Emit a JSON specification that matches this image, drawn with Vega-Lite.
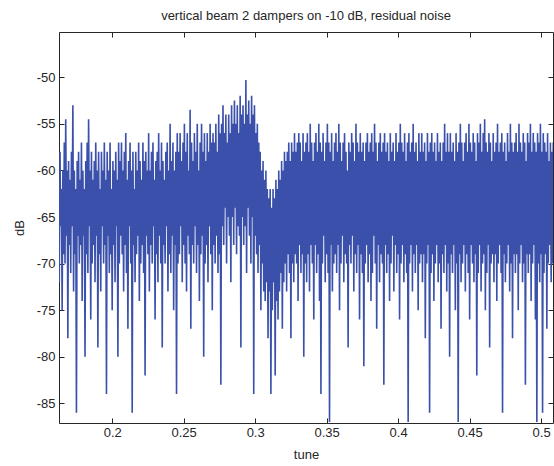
{
"$schema": "https://vega.github.io/schema/vega-lite/v6.json",
"width": 494,
"height": 391,
"autosize": {"type": "none"},
"padding": {"left": 59, "top": 32, "right": 1, "bottom": 43},
"background": "white",
"title": {"text": "vertical beam 2 dampers on -10 dB, residual noise", "font": "Liberation Sans", "fontSize": 13, "fontWeight": "normal", "color": "#262626", "offset": 9, "anchor": "middle"},
"data": {"values": [
{"x":0.1615,"y":-59},{"x":0.162,"y":-68},{"x":0.1625,"y":-61},{"x":0.163,"y":-72},{"x":0.1635,"y":-58},{"x":0.164,"y":-66},{"x":0.1645,"y":-62},{"x":0.165,"y":-75},{"x":0.1655,"y":-60},{"x":0.166,"y":-69},
{"x":0.1665,"y":-57},{"x":0.167,"y":-70},{"x":0.1675,"y":-54.5},{"x":0.168,"y":-67},{"x":0.1685,"y":-60},{"x":0.169,"y":-78},{"x":0.1695,"y":-59},{"x":0.17,"y":-68},{"x":0.1705,"y":-61},{"x":0.171,"y":-71},
{"x":0.1715,"y":-58},{"x":0.172,"y":-66},{"x":0.1725,"y":-53},{"x":0.173,"y":-73},{"x":0.1735,"y":-60},{"x":0.174,"y":-69},{"x":0.1745,"y":-62},{"x":0.175,"y":-86},{"x":0.1755,"y":-59},{"x":0.176,"y":-67},
{"x":0.1765,"y":-58},{"x":0.177,"y":-70},{"x":0.1775,"y":-61},{"x":0.178,"y":-68},{"x":0.1785,"y":-57},{"x":0.179,"y":-74},{"x":0.1795,"y":-60},{"x":0.18,"y":-67},{"x":0.1805,"y":-62},{"x":0.181,"y":-80},
{"x":0.1815,"y":-59},{"x":0.182,"y":-69},{"x":0.1825,"y":-57},{"x":0.183,"y":-71},{"x":0.1835,"y":-54.5},{"x":0.184,"y":-66},{"x":0.1845,"y":-60},{"x":0.185,"y":-76},{"x":0.1855,"y":-58},{"x":0.186,"y":-70},
{"x":0.1865,"y":-61},{"x":0.187,"y":-68},{"x":0.1875,"y":-59},{"x":0.188,"y":-72},{"x":0.1885,"y":-57},{"x":0.189,"y":-67},{"x":0.1895,"y":-60},{"x":0.19,"y":-79},{"x":0.1905,"y":-58},{"x":0.191,"y":-69},
{"x":0.1915,"y":-62},{"x":0.192,"y":-73},{"x":0.1925,"y":-58},{"x":0.193,"y":-66},{"x":0.1935,"y":-60},{"x":0.194,"y":-70},{"x":0.1945,"y":-57},{"x":0.195,"y":-68},{"x":0.1955,"y":-61},{"x":0.196,"y":-84},
{"x":0.1965,"y":-58},{"x":0.197,"y":-67},{"x":0.1975,"y":-60},{"x":0.198,"y":-71},{"x":0.1985,"y":-57},{"x":0.199,"y":-69},{"x":0.1995,"y":-62},{"x":0.2,"y":-75},{"x":0.2005,"y":-59},{"x":0.201,"y":-68},
{"x":0.2015,"y":-60},{"x":0.202,"y":-72},{"x":0.2025,"y":-58},{"x":0.203,"y":-66},{"x":0.2035,"y":-61},{"x":0.204,"y":-80},{"x":0.2045,"y":-57},{"x":0.205,"y":-70},{"x":0.2055,"y":-59},{"x":0.206,"y":-67},
{"x":0.2065,"y":-57},{"x":0.207,"y":-69},{"x":0.2075,"y":-60},{"x":0.208,"y":-73},{"x":0.2085,"y":-58},{"x":0.209,"y":-68},{"x":0.2095,"y":-56},{"x":0.21,"y":-71},{"x":0.2105,"y":-61},{"x":0.211,"y":-77},
{"x":0.2115,"y":-59},{"x":0.212,"y":-66},{"x":0.2125,"y":-57},{"x":0.213,"y":-70},{"x":0.2135,"y":-60},{"x":0.214,"y":-86},{"x":0.2145,"y":-58},{"x":0.215,"y":-68},{"x":0.2155,"y":-62},{"x":0.216,"y":-72},
{"x":0.2165,"y":-58},{"x":0.217,"y":-69},{"x":0.2175,"y":-60},{"x":0.218,"y":-67},{"x":0.2185,"y":-57},{"x":0.219,"y":-74},{"x":0.2195,"y":-59},{"x":0.22,"y":-70},{"x":0.2205,"y":-61},{"x":0.221,"y":-68},
{"x":0.2215,"y":-57},{"x":0.222,"y":-71},{"x":0.2225,"y":-59},{"x":0.223,"y":-82},{"x":0.2235,"y":-58},{"x":0.224,"y":-67},{"x":0.2245,"y":-60},{"x":0.225,"y":-69},{"x":0.2255,"y":-56},{"x":0.226,"y":-73},
{"x":0.2265,"y":-60},{"x":0.227,"y":-68},{"x":0.2275,"y":-58},{"x":0.228,"y":-70},{"x":0.2285,"y":-57},{"x":0.229,"y":-66},{"x":0.2295,"y":-61},{"x":0.23,"y":-76},{"x":0.2305,"y":-59},{"x":0.231,"y":-69},
{"x":0.2315,"y":-58},{"x":0.232,"y":-72},{"x":0.2325,"y":-56},{"x":0.233,"y":-67},{"x":0.2335,"y":-60},{"x":0.234,"y":-70},{"x":0.2345,"y":-57},{"x":0.235,"y":-79},{"x":0.2355,"y":-59},{"x":0.236,"y":-68},
{"x":0.2365,"y":-61},{"x":0.237,"y":-70},{"x":0.2375,"y":-58},{"x":0.238,"y":-66},{"x":0.2385,"y":-57},{"x":0.239,"y":-73},{"x":0.2395,"y":-60},{"x":0.24,"y":-69},{"x":0.2405,"y":-55},{"x":0.241,"y":-71},
{"x":0.2415,"y":-59},{"x":0.242,"y":-67},{"x":0.2425,"y":-57},{"x":0.243,"y":-75},{"x":0.2435,"y":-60},{"x":0.244,"y":-68},{"x":0.2445,"y":-58},{"x":0.245,"y":-84},{"x":0.2455,"y":-56},{"x":0.246,"y":-70},
{"x":0.2465,"y":-58},{"x":0.247,"y":-69},{"x":0.2475,"y":-56},{"x":0.248,"y":-66},{"x":0.2485,"y":-59},{"x":0.249,"y":-72},{"x":0.2495,"y":-57},{"x":0.25,"y":-68},{"x":0.2505,"y":-55},{"x":0.251,"y":-70},
{"x":0.2515,"y":-58},{"x":0.252,"y":-73},{"x":0.2525,"y":-56},{"x":0.253,"y":-67},{"x":0.2535,"y":-60},{"x":0.254,"y":-69},{"x":0.2545,"y":-53.5},{"x":0.255,"y":-77},{"x":0.2555,"y":-57},{"x":0.256,"y":-68},
{"x":0.2565,"y":-59},{"x":0.257,"y":-70},{"x":0.2575,"y":-56},{"x":0.258,"y":-66},{"x":0.2585,"y":-58},{"x":0.259,"y":-71},{"x":0.2595,"y":-55},{"x":0.26,"y":-68},{"x":0.2605,"y":-60},{"x":0.261,"y":-74},
{"x":0.2615,"y":-57},{"x":0.262,"y":-69},{"x":0.2625,"y":-55},{"x":0.263,"y":-67},{"x":0.2635,"y":-58},{"x":0.264,"y":-80},{"x":0.2645,"y":-56},{"x":0.265,"y":-70},{"x":0.2655,"y":-59},{"x":0.266,"y":-68},
{"x":0.2665,"y":-56},{"x":0.267,"y":-72},{"x":0.2675,"y":-58},{"x":0.268,"y":-66},{"x":0.2685,"y":-55},{"x":0.269,"y":-69},{"x":0.2695,"y":-57},{"x":0.27,"y":-75},{"x":0.2705,"y":-56},{"x":0.271,"y":-68},
{"x":0.2715,"y":-57},{"x":0.272,"y":-70},{"x":0.2725,"y":-55},{"x":0.273,"y":-67},{"x":0.2735,"y":-58},{"x":0.274,"y":-71},{"x":0.2745,"y":-54},{"x":0.275,"y":-69},{"x":0.2755,"y":-56},{"x":0.276,"y":-83},
{"x":0.2765,"y":-55},{"x":0.277,"y":-66},{"x":0.2775,"y":-53},{"x":0.278,"y":-68},{"x":0.2785,"y":-56},{"x":0.279,"y":-64},{"x":0.2795,"y":-54},{"x":0.28,"y":-70},{"x":0.2805,"y":-57},{"x":0.281,"y":-65},
{"x":0.2815,"y":-54},{"x":0.282,"y":-67},{"x":0.2825,"y":-56},{"x":0.283,"y":-72},{"x":0.2835,"y":-53},{"x":0.284,"y":-65},{"x":0.2845,"y":-55},{"x":0.285,"y":-68},{"x":0.2855,"y":-52.5},{"x":0.286,"y":-64},
{"x":0.2865,"y":-55},{"x":0.287,"y":-69},{"x":0.2875,"y":-53},{"x":0.288,"y":-66},{"x":0.2885,"y":-56},{"x":0.289,"y":-67},{"x":0.2895,"y":-52},{"x":0.29,"y":-79},{"x":0.2905,"y":-54},{"x":0.291,"y":-65},
{"x":0.2915,"y":-53},{"x":0.292,"y":-68},{"x":0.2925,"y":-55},{"x":0.293,"y":-66},{"x":0.2935,"y":-50.3},{"x":0.294,"y":-71},{"x":0.2945,"y":-54},{"x":0.295,"y":-64},{"x":0.2955,"y":-52.5},{"x":0.296,"y":-67},
{"x":0.2965,"y":-55},{"x":0.297,"y":-70},{"x":0.2975,"y":-52},{"x":0.298,"y":-65},{"x":0.2985,"y":-54},{"x":0.299,"y":-84},{"x":0.2995,"y":-53},{"x":0.3,"y":-67},{"x":0.3005,"y":-56},{"x":0.301,"y":-69},
{"x":0.3015,"y":-55},{"x":0.302,"y":-71},{"x":0.3025,"y":-57},{"x":0.303,"y":-68},{"x":0.3035,"y":-58},{"x":0.304,"y":-75},{"x":0.3045,"y":-60},{"x":0.305,"y":-70},{"x":0.3055,"y":-59},{"x":0.306,"y":-73},
{"x":0.3065,"y":-61},{"x":0.307,"y":-74},{"x":0.3075,"y":-60},{"x":0.308,"y":-72},{"x":0.3085,"y":-62},{"x":0.309,"y":-78},{"x":0.3095,"y":-63},{"x":0.31,"y":-73},{"x":0.3105,"y":-62},{"x":0.311,"y":-84},
{"x":0.3115,"y":-64},{"x":0.312,"y":-75},{"x":0.3125,"y":-62},{"x":0.313,"y":-72},{"x":0.3135,"y":-63},{"x":0.314,"y":-82},{"x":0.3145,"y":-61},{"x":0.315,"y":-74},{"x":0.3155,"y":-62},{"x":0.316,"y":-76},
{"x":0.3165,"y":-60},{"x":0.317,"y":-73},{"x":0.3175,"y":-61},{"x":0.318,"y":-71},{"x":0.3185,"y":-59},{"x":0.319,"y":-77},{"x":0.3195,"y":-60},{"x":0.32,"y":-72},{"x":0.3205,"y":-58},{"x":0.321,"y":-70},
{"x":0.3215,"y":-59},{"x":0.322,"y":-73},{"x":0.3225,"y":-58},{"x":0.323,"y":-69},{"x":0.3235,"y":-57},{"x":0.324,"y":-71},{"x":0.3245,"y":-59},{"x":0.325,"y":-78},{"x":0.3255,"y":-57},{"x":0.326,"y":-70},
{"x":0.3265,"y":-58},{"x":0.327,"y":-72},{"x":0.3275,"y":-56},{"x":0.328,"y":-69},{"x":0.3285,"y":-58},{"x":0.329,"y":-70},{"x":0.3295,"y":-57},{"x":0.33,"y":-74},{"x":0.3305,"y":-56},{"x":0.331,"y":-68},
{"x":0.3315,"y":-57},{"x":0.332,"y":-71},{"x":0.3325,"y":-59},{"x":0.333,"y":-69},{"x":0.3335,"y":-56},{"x":0.334,"y":-80},{"x":0.3345,"y":-58},{"x":0.335,"y":-70},{"x":0.3355,"y":-57},{"x":0.336,"y":-72},
{"x":0.3365,"y":-56},{"x":0.337,"y":-69},{"x":0.3375,"y":-58},{"x":0.338,"y":-73},{"x":0.3385,"y":-55},{"x":0.339,"y":-68},{"x":0.3395,"y":-57},{"x":0.34,"y":-70},{"x":0.3405,"y":-59},{"x":0.341,"y":-76},
{"x":0.3415,"y":-57},{"x":0.342,"y":-68},{"x":0.3425,"y":-56},{"x":0.343,"y":-71},{"x":0.3435,"y":-58},{"x":0.344,"y":-69},{"x":0.3445,"y":-55},{"x":0.345,"y":-74},{"x":0.3455,"y":-57},{"x":0.346,"y":-84},
{"x":0.3465,"y":-58},{"x":0.347,"y":-70},{"x":0.3475,"y":-56},{"x":0.348,"y":-67},{"x":0.3485,"y":-59},{"x":0.349,"y":-72},{"x":0.3495,"y":-57},{"x":0.35,"y":-69},{"x":0.3505,"y":-55},{"x":0.351,"y":-71},
{"x":0.3515,"y":-57},{"x":0.352,"y":-87},{"x":0.3525,"y":-58},{"x":0.353,"y":-68},{"x":0.3535,"y":-56},{"x":0.354,"y":-73},{"x":0.3545,"y":-59},{"x":0.355,"y":-70},{"x":0.3555,"y":-57},{"x":0.356,"y":-69},
{"x":0.3565,"y":-56},{"x":0.357,"y":-71},{"x":0.3575,"y":-58},{"x":0.358,"y":-68},{"x":0.3585,"y":-55},{"x":0.359,"y":-75},{"x":0.3595,"y":-57},{"x":0.36,"y":-70},{"x":0.3605,"y":-59},{"x":0.361,"y":-67},
{"x":0.3615,"y":-57},{"x":0.362,"y":-72},{"x":0.3625,"y":-56},{"x":0.363,"y":-69},{"x":0.3635,"y":-58},{"x":0.364,"y":-70},{"x":0.3645,"y":-60},{"x":0.365,"y":-79},{"x":0.3655,"y":-57},{"x":0.366,"y":-68},
{"x":0.3665,"y":-58},{"x":0.367,"y":-70},{"x":0.3675,"y":-56},{"x":0.368,"y":-67},{"x":0.3685,"y":-57},{"x":0.369,"y":-73},{"x":0.3695,"y":-59},{"x":0.37,"y":-69},{"x":0.3705,"y":-55},{"x":0.371,"y":-71},
{"x":0.3715,"y":-57},{"x":0.372,"y":-68},{"x":0.3725,"y":-58},{"x":0.373,"y":-76},{"x":0.3735,"y":-56},{"x":0.374,"y":-69},{"x":0.3745,"y":-58},{"x":0.375,"y":-71},{"x":0.3755,"y":-57},{"x":0.376,"y":-81},
{"x":0.3765,"y":-59},{"x":0.377,"y":-70},{"x":0.3775,"y":-57},{"x":0.378,"y":-68},{"x":0.3785,"y":-56},{"x":0.379,"y":-72},{"x":0.3795,"y":-58},{"x":0.38,"y":-69},{"x":0.3805,"y":-57},{"x":0.381,"y":-74},
{"x":0.3815,"y":-56},{"x":0.382,"y":-71},{"x":0.3825,"y":-58},{"x":0.383,"y":-67},{"x":0.3835,"y":-55},{"x":0.384,"y":-70},{"x":0.3845,"y":-57},{"x":0.385,"y":-77},{"x":0.3855,"y":-59},{"x":0.386,"y":-68},
{"x":0.3865,"y":-57},{"x":0.387,"y":-72},{"x":0.3875,"y":-56},{"x":0.388,"y":-69},{"x":0.3885,"y":-58},{"x":0.389,"y":-70},{"x":0.3895,"y":-57},{"x":0.39,"y":-83},{"x":0.3905,"y":-56},{"x":0.391,"y":-68},
{"x":0.3915,"y":-58},{"x":0.392,"y":-71},{"x":0.3925,"y":-57},{"x":0.393,"y":-69},{"x":0.3935,"y":-59},{"x":0.394,"y":-74},{"x":0.3945,"y":-56},{"x":0.395,"y":-70},{"x":0.3955,"y":-58},{"x":0.396,"y":-67},
{"x":0.3965,"y":-57},{"x":0.397,"y":-73},{"x":0.3975,"y":-59},{"x":0.398,"y":-68},{"x":0.3985,"y":-56},{"x":0.399,"y":-71},{"x":0.3995,"y":-58},{"x":0.4,"y":-69},{"x":0.4005,"y":-57},{"x":0.401,"y":-76},
{"x":0.4015,"y":-55},{"x":0.402,"y":-70},{"x":0.4025,"y":-57},{"x":0.403,"y":-68},{"x":0.4035,"y":-58},{"x":0.404,"y":-72},{"x":0.4045,"y":-56},{"x":0.405,"y":-69},{"x":0.4055,"y":-59},{"x":0.406,"y":-71},
{"x":0.4065,"y":-57},{"x":0.407,"y":-87},{"x":0.4075,"y":-56},{"x":0.408,"y":-70},{"x":0.4085,"y":-58},{"x":0.409,"y":-68},{"x":0.4095,"y":-57},{"x":0.41,"y":-73},{"x":0.4105,"y":-55},{"x":0.411,"y":-69},
{"x":0.4115,"y":-58},{"x":0.412,"y":-71},{"x":0.4125,"y":-57},{"x":0.413,"y":-68},{"x":0.4135,"y":-59},{"x":0.414,"y":-75},{"x":0.4145,"y":-56},{"x":0.415,"y":-70},{"x":0.4155,"y":-58},{"x":0.416,"y":-69},
{"x":0.4165,"y":-56},{"x":0.417,"y":-72},{"x":0.4175,"y":-58},{"x":0.418,"y":-69},{"x":0.4185,"y":-57},{"x":0.419,"y":-78},{"x":0.4195,"y":-59},{"x":0.42,"y":-70},{"x":0.4205,"y":-56},{"x":0.421,"y":-68},
{"x":0.4215,"y":-58},{"x":0.422,"y":-86},{"x":0.4225,"y":-57},{"x":0.423,"y":-71},{"x":0.4235,"y":-56},{"x":0.424,"y":-69},{"x":0.4245,"y":-58},{"x":0.425,"y":-74},{"x":0.4255,"y":-57},{"x":0.426,"y":-70},
{"x":0.4265,"y":-59},{"x":0.427,"y":-68},{"x":0.4275,"y":-56},{"x":0.428,"y":-72},{"x":0.4285,"y":-58},{"x":0.429,"y":-70},{"x":0.4295,"y":-57},{"x":0.43,"y":-77},{"x":0.4305,"y":-59},{"x":0.431,"y":-69},
{"x":0.4315,"y":-57},{"x":0.432,"y":-71},{"x":0.4325,"y":-55},{"x":0.433,"y":-68},{"x":0.4335,"y":-58},{"x":0.434,"y":-73},{"x":0.4345,"y":-56},{"x":0.435,"y":-70},{"x":0.4355,"y":-58},{"x":0.436,"y":-80},
{"x":0.4365,"y":-56},{"x":0.437,"y":-69},{"x":0.4375,"y":-58},{"x":0.438,"y":-71},{"x":0.4385,"y":-57},{"x":0.439,"y":-68},{"x":0.4395,"y":-59},{"x":0.44,"y":-75},{"x":0.4405,"y":-56},{"x":0.441,"y":-70},
{"x":0.4415,"y":-58},{"x":0.442,"y":-87},{"x":0.4425,"y":-57},{"x":0.443,"y":-69},{"x":0.4435,"y":-55},{"x":0.444,"y":-72},{"x":0.4445,"y":-57},{"x":0.445,"y":-70},{"x":0.4455,"y":-59},{"x":0.446,"y":-68},
{"x":0.4465,"y":-57},{"x":0.447,"y":-73},{"x":0.4475,"y":-56},{"x":0.448,"y":-69},{"x":0.4485,"y":-58},{"x":0.449,"y":-71},{"x":0.4495,"y":-55},{"x":0.45,"y":-76},{"x":0.4505,"y":-57},{"x":0.451,"y":-68},
{"x":0.4515,"y":-58},{"x":0.452,"y":-70},{"x":0.4525,"y":-56},{"x":0.453,"y":-72},{"x":0.4535,"y":-57},{"x":0.454,"y":-69},{"x":0.4545,"y":-59},{"x":0.455,"y":-82},{"x":0.4555,"y":-56},{"x":0.456,"y":-71},
{"x":0.4565,"y":-57},{"x":0.457,"y":-68},{"x":0.4575,"y":-55},{"x":0.458,"y":-73},{"x":0.4585,"y":-58},{"x":0.459,"y":-70},{"x":0.4595,"y":-56},{"x":0.46,"y":-69},{"x":0.4605,"y":-54.5},{"x":0.461,"y":-75},
{"x":0.4615,"y":-57},{"x":0.462,"y":-71},{"x":0.4625,"y":-58},{"x":0.463,"y":-68},{"x":0.4635,"y":-56},{"x":0.464,"y":-79},{"x":0.4645,"y":-57},{"x":0.465,"y":-70},{"x":0.4655,"y":-59},{"x":0.466,"y":-69},
{"x":0.4665,"y":-56},{"x":0.467,"y":-72},{"x":0.4675,"y":-58},{"x":0.468,"y":-69},{"x":0.4685,"y":-57},{"x":0.469,"y":-74},{"x":0.4695,"y":-55},{"x":0.47,"y":-70},{"x":0.4705,"y":-58},{"x":0.471,"y":-68},
{"x":0.4715,"y":-57},{"x":0.472,"y":-71},{"x":0.4725,"y":-56},{"x":0.473,"y":-86},{"x":0.4735,"y":-58},{"x":0.474,"y":-69},{"x":0.4745,"y":-57},{"x":0.475,"y":-72},{"x":0.4755,"y":-59},{"x":0.476,"y":-70},
{"x":0.4765,"y":-56},{"x":0.477,"y":-68},{"x":0.4775,"y":-58},{"x":0.478,"y":-73},{"x":0.4785,"y":-55},{"x":0.479,"y":-70},{"x":0.4795,"y":-57},{"x":0.48,"y":-78},{"x":0.4805,"y":-58},{"x":0.481,"y":-69},
{"x":0.4815,"y":-57},{"x":0.482,"y":-71},{"x":0.4825,"y":-56},{"x":0.483,"y":-69},{"x":0.4835,"y":-58},{"x":0.484,"y":-75},{"x":0.4845,"y":-55},{"x":0.485,"y":-70},{"x":0.4855,"y":-57},{"x":0.486,"y":-68},
{"x":0.4865,"y":-58},{"x":0.487,"y":-72},{"x":0.4875,"y":-56},{"x":0.488,"y":-70},{"x":0.4885,"y":-57},{"x":0.489,"y":-83},{"x":0.4895,"y":-59},{"x":0.49,"y":-69},{"x":0.4905,"y":-56},{"x":0.491,"y":-71},
{"x":0.4915,"y":-57},{"x":0.492,"y":-69},{"x":0.4925,"y":-55},{"x":0.493,"y":-74},{"x":0.4935,"y":-58},{"x":0.494,"y":-70},{"x":0.4945,"y":-56},{"x":0.495,"y":-68},{"x":0.4955,"y":-57},{"x":0.496,"y":-76},
{"x":0.4965,"y":-58},{"x":0.497,"y":-87},{"x":0.4975,"y":-56},{"x":0.498,"y":-70},{"x":0.4985,"y":-57},{"x":0.499,"y":-72},{"x":0.4995,"y":-55},{"x":0.5,"y":-69},{"x":0.5005,"y":-58},{"x":0.501,"y":-86},
{"x":0.5015,"y":-56},{"x":0.502,"y":-71},{"x":0.5025,"y":-57},{"x":0.503,"y":-69},{"x":0.5035,"y":-58},{"x":0.504,"y":-77},{"x":0.5045,"y":-56},{"x":0.505,"y":-70},{"x":0.5055,"y":-59},{"x":0.506,"y":-68},
{"x":0.5065,"y":-57},{"x":0.507,"y":-72},{"x":0.5075,"y":-58},{"x":0.508,"y":-70},{"x":0.5085,"y":-57}
]},
"layer": [
{
"mark": {"type": "line", "color": "#3a50aa", "strokeWidth": 1.6, "clip": true},
"encoding": {
"x": {"field": "x", "type": "quantitative", "scale": {"domain": [0.1628, 0.5083], "nice": false, "zero": false},
"axis": {"orient": "bottom", "values": [0.2, 0.25, 0.3, 0.35, 0.4, 0.45, 0.5], "labelExpr": "'' + datum.value", "title": "tune", "labelPadding": 8, "titlePadding": 9}},
"y": {"field": "y", "type": "quantitative", "scale": {"domain": [-87.1, -45.15], "nice": false, "zero": false},
"axis": {"orient": "left", "values": [-85, -80, -75, -70, -65, -60, -55, -50], "labelExpr": "'' + datum.value", "title": "dB", "labelPadding": 9, "titlePadding": 10}}
}
},
{
"mark": {"type": "line", "opacity": 0, "clip": true},
"encoding": {
"x": {"field": "x", "type": "quantitative", "scale": {"domain": [0.1628, 0.5083], "nice": false, "zero": false},
"axis": {"orient": "top", "values": [0.2, 0.25, 0.3, 0.35, 0.4, 0.45, 0.5], "labels": false, "title": null}},
"y": {"field": "y", "type": "quantitative", "scale": {"domain": [-87.1, -45.15], "nice": false, "zero": false},
"axis": {"orient": "right", "values": [-85, -80, -75, -70, -65, -60, -55, -50], "labels": false, "title": null}}
}
}
],
"resolve": {"axis": {"x": "independent", "y": "independent"}},
"config": {
"view": {"stroke": "#262626", "strokeWidth": 1},
"axis": {"grid": false, "domain": false, "tickSize": -5, "tickColor": "#262626", "tickWidth": 1,
"labelFont": "Liberation Sans", "labelFontSize": 13, "labelColor": "#262626",
"titleFont": "Liberation Sans", "titleFontSize": 13, "titleFontWeight": "normal", "titleColor": "#262626"}
}
}
